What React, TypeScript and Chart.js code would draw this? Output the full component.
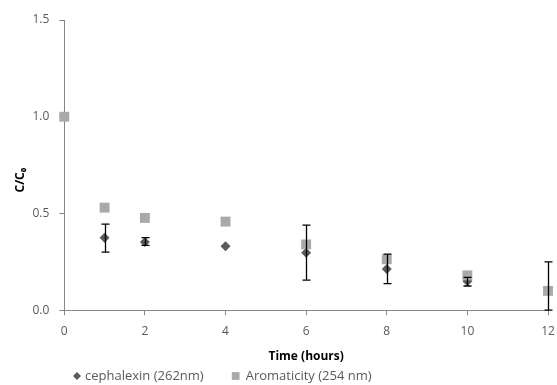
import React, { useEffect, useRef } from "react";
import { Chart, registerables } from "chart.js";

Chart.register(...registerables);

const timeHours = [0, 1, 2, 4, 6, 8, 10, 12];
const cephalexin = [1.0, 0.374, 0.353, 0.33, 0.297, 0.213, 0.15, 0.1];
const cephLow = [null, 0.3, 0.335, null, 0.155, 0.137, 0.125, 0.0];
const cephHigh = [null, 0.445, 0.375, null, 0.44, 0.29, 0.17, 0.25];
const aromaticity = [1.0, 0.53, 0.477, 0.458, 0.34, 0.263, 0.18, 0.1];
const yTicks = [0, 0.5, 1.0, 1.5];
const xTicks = [0, 2, 4, 6, 8, 10, 12];
const seriesNames = ["cephalexin (262nm)", "Aromaticity (254 nm)"];

const FONT = "'Open Sans', 'DejaVu Sans', sans-serif";
const TEXT = "#595959";
const AXIS = "#878787";
const CEPH_COLOR = "#5b5b5b";
const ARO_COLOR = "#a9a9a9";

const errorBarPlugin = {
  id: "errorBars",
  afterDatasetsDraw(chart: any) {
    const xs = chart.scales.x;
    const ys = chart.scales.y;
    const ctx = chart.ctx;
    ctx.save();
    ctx.strokeStyle = "#000000";
    ctx.lineWidth = 1.3;
    for (let i = 0; i < timeHours.length; i++) {
      const lo = cephLow[i];
      const hi = cephHigh[i];
      if (lo === null || hi === null) continue;
      const x = Math.round(xs.getPixelForValue(timeHours[i])) + 0.5;
      const yl = ys.getPixelForValue(lo);
      const yh = ys.getPixelForValue(hi);
      ctx.beginPath();
      ctx.moveTo(x, yl);
      ctx.lineTo(x, yh);
      ctx.moveTo(x - 4, yh);
      ctx.lineTo(x + 4, yh);
      ctx.moveTo(x - 4, yl);
      ctx.lineTo(x + 4, yl);
      ctx.stroke();
    }
    ctx.restore();
  },
};

const legendPlugin = {
  id: "customLegend",
  afterDraw(chart: any) {
    const ctx = chart.ctx;
    ctx.save();
    ctx.font = `13px ${FONT}`;
    ctx.textBaseline = "middle";
    const y = 376;
    let x = 77;
    const styles = ["rectRot", "rect"];
    const colors = [CEPH_COLOR, ARO_COLOR];
    const radii = [4, 5.5];
    const textGap = [8, 10];
    for (let i = 0; i < seriesNames.length; i++) {
      ctx.fillStyle = colors[i];
      ctx.beginPath();
      if (styles[i] === "rectRot") {
        const r = radii[i];
        ctx.moveTo(x, y - r);
        ctx.lineTo(x + r, y);
        ctx.lineTo(x, y + r);
        ctx.lineTo(x - r, y);
        ctx.closePath();
      } else {
        const s = radii[i] * Math.SQRT1_2;
        ctx.rect(x - s, y - s, 2 * s, 2 * s);
      }
      ctx.fill();
      ctx.fillStyle = TEXT;
      ctx.fillText(seriesNames[i], x + textGap[i], y);
      x += textGap[i] + ctx.measureText(seriesNames[i]).width + 32;
    }
    ctx.restore();
  },
};

export default function App() {
  const ref = useRef<HTMLCanvasElement>(null);
  useEffect(() => {
    document.body.style.margin = "0";
    const canvas = ref.current!;
    const chart = new Chart(canvas, {
      type: "scatter",
      data: {
        datasets: [
          {
            label: seriesNames[0],
            data: timeHours.map((t, i) => ({ x: t, y: cephalexin[i] })),
            pointStyle: "rectRot",
            pointRadius: 5,
            pointHoverRadius: 5,
            backgroundColor: CEPH_COLOR,
            borderColor: CEPH_COLOR,
            borderWidth: 0,
            clip: false,
            order: 2,
          },
          {
            label: seriesNames[1],
            data: timeHours.map((t, i) => ({ x: t, y: aromaticity[i] })),
            pointStyle: "rect",
            pointRadius: 7,
            pointHoverRadius: 7,
            backgroundColor: ARO_COLOR,
            borderColor: ARO_COLOR,
            borderWidth: 0,
            clip: false,
            order: 1,
          },
        ],
      },
      options: {
        responsive: false,
        animation: false,
        layout: { autoPadding: false, padding: { top: 20, right: 9, left: 12, bottom: 21 } },
        plugins: {
          legend: { display: false },
          tooltip: { enabled: false },
        },
        scales: {
          x: {
            type: "linear",
            min: 0,
            max: 12,
            afterBuildTicks: (s: any) => {
              s.ticks = xTicks.map((v) => ({ value: v }));
            },
            afterFit: (s: any) => {
              s.paddingRight = 0;
              s.paddingLeft = 0;
            },
            ticks: {
              color: TEXT,
              font: { family: FONT, size: 12 },
              padding: 9,
              maxRotation: 0,
            },
            grid: {
              display: true,
              drawOnChartArea: false,
              drawTicks: true,
              tickLength: 5,
              color: AXIS,
            },
            border: { color: AXIS, width: 1 },
            title: {
              display: true,
              text: "Time (hours)",
              color: "#000000",
              font: { family: FONT, size: 12, weight: "bold" },
              padding: { top: 2, bottom: 0 },
            },
          },
          y: {
            type: "linear",
            min: 0,
            max: 1.5,
            afterBuildTicks: (s: any) => {
              s.ticks = yTicks.map((v) => ({ value: v }));
            },
            ticks: {
              color: TEXT,
              font: { family: FONT, size: 12 },
              padding: 10,
              callback: (v: any) => Number(v).toFixed(1),
            },
            grid: {
              display: true,
              drawOnChartArea: false,
              drawTicks: true,
              tickLength: 5,
              color: AXIS,
            },
            border: { color: AXIS, width: 1 },
            title: {
              display: true,
              text: "C/C₀\u2003\u2003\u2002",
              color: "#000000",
              font: { family: FONT, size: 12, weight: "bold" },
              padding: { top: 1, bottom: -5 },
            },
          },
        },
      },
      plugins: [errorBarPlugin, legendPlugin],
    });
    return () => chart.destroy();
  }, []);
  return (
    <div style={{ width: 557, height: 385 }}>
      <canvas ref={ref} width={557} height={385} />
    </div>
  );
}
